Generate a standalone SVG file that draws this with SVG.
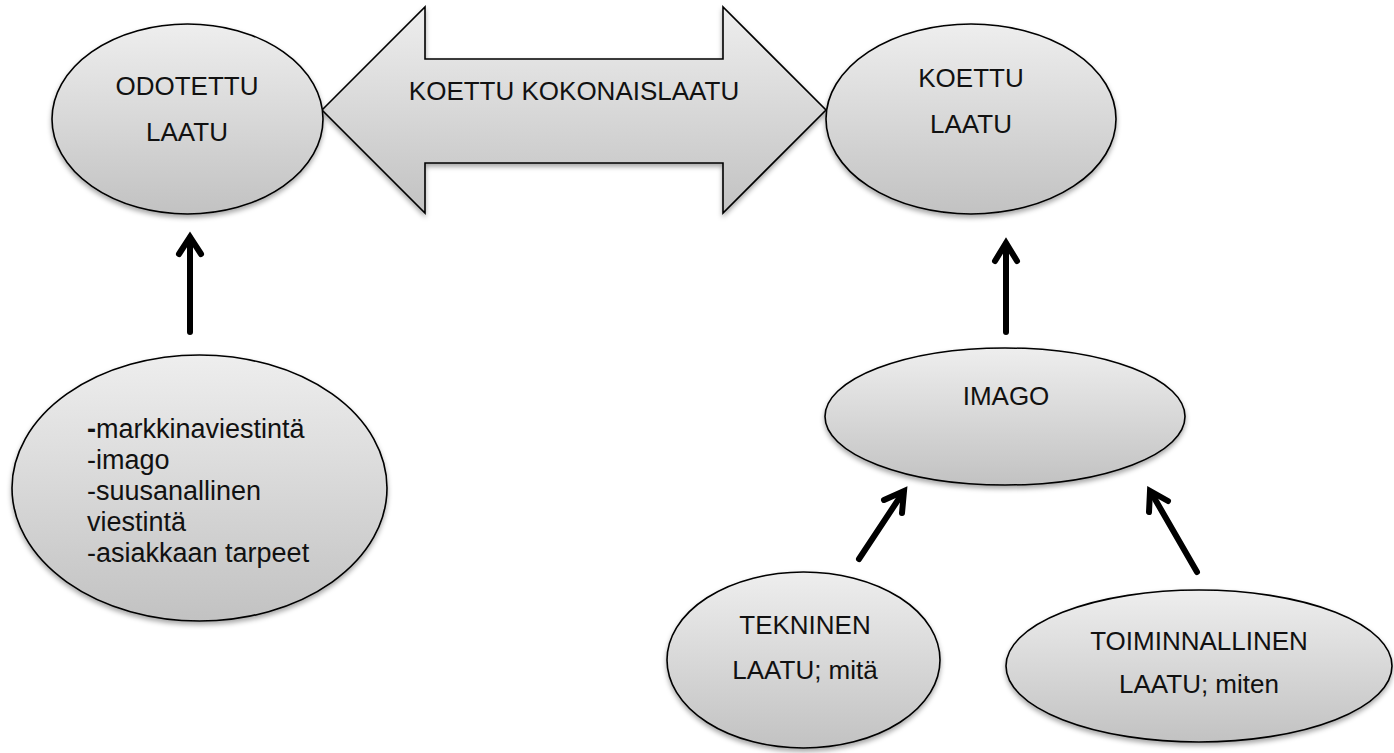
<svg xmlns="http://www.w3.org/2000/svg" width="1394" height="753" viewBox="0 0 1394 753">
<defs>
<linearGradient id="g" x1="0" y1="0" x2="0" y2="1">
<stop offset="0" stop-color="#eeeeee"/>
<stop offset="1" stop-color="#c2c2c2"/>
</linearGradient>
<filter id="sh" x="-10%" y="-10%" width="120%" height="125%">
<feDropShadow dx="0" dy="3" stdDeviation="2.5" flood-color="#000" flood-opacity="0.35"/>
</filter>
<style>
.shape{fill:url(#g);stroke:#000;stroke-width:1.6;filter:url(#sh)}
.t{font-family:"Liberation Sans",Arial,sans-serif;font-size:26px;fill:#111}
.l{font-size:27px}
.c{text-anchor:middle}
.conn{fill:none;stroke:#000;stroke-width:6;stroke-linecap:round;stroke-linejoin:miter}
</style>
</defs>
<rect width="1394" height="753" fill="#fff"/>
<g id="koettu-kokonaislaatu">
<path class="shape" d="M322,110 L425,7 L425,59 L723,59 L723,7 L826,110 L723,213 L723,163 L425,163 L425,213 Z"/>
<text class="t c" x="574" y="100">KOETTU KOKONAISLAATU</text>
</g>
<g id="odotettu">
<ellipse class="shape" cx="187.5" cy="119" rx="135.5" ry="95"/>
<text class="t c" x="187" y="95">ODOTETTU</text>
<text class="t c" x="187" y="141">LAATU</text>
</g>
<g id="koettu">
<ellipse class="shape" cx="971" cy="119" rx="145" ry="95"/>
<text class="t c" x="971" y="87">KOETTU</text>
<text class="t c" x="971" y="133">LAATU</text>
</g>
<g id="tekijat">
<ellipse class="shape" cx="199.5" cy="488" rx="187.5" ry="133"/>
<text class="t l" x="87" y="438"><tspan font-weight="bold">-</tspan>markkinaviestintä</text>
<text class="t l" x="87" y="469">-imago</text>
<text class="t l" x="87" y="500">-suusanallinen</text>
<text class="t l" x="87" y="531">viestintä</text>
<text class="t l" x="87" y="562">-asiakkaan tarpeet</text>
</g>
<g id="imago">
<ellipse class="shape" cx="1005" cy="416.5" rx="180" ry="68.5"/>
<text class="t c" x="1006" y="405">IMAGO</text>
</g>
<g id="tekninen">
<ellipse class="shape" cx="803.5" cy="660" rx="136.5" ry="88"/>
<text class="t c" x="805" y="634">TEKNINEN</text>
<text class="t c" x="805" y="679">LAATU; mitä</text>
</g>
<g id="toiminnallinen">
<ellipse class="shape" cx="1199" cy="666" rx="193" ry="76"/>
<text class="t c" x="1199" y="650">TOIMINNALLINEN</text>
<text class="t c" x="1199" y="693">LAATU; miten</text>
</g>
<g id="connectors">
<path class="conn" d="M190,332 L190,238"/>
<path class="conn" d="M179,254 L190,237 L201,254"/>
<path class="conn" d="M1006,332 L1006,244"/>
<path class="conn" d="M995,261 L1006,243 L1017,261"/>
<path class="conn" d="M859,559 L902,494"/>
<path class="conn" d="M884,500 L904,491 L902,513"/>
<path class="conn" d="M1197,572 L1152,494"/>
<path class="conn" d="M1168,501 L1150,491 L1149,512"/>
</g>
</svg>
